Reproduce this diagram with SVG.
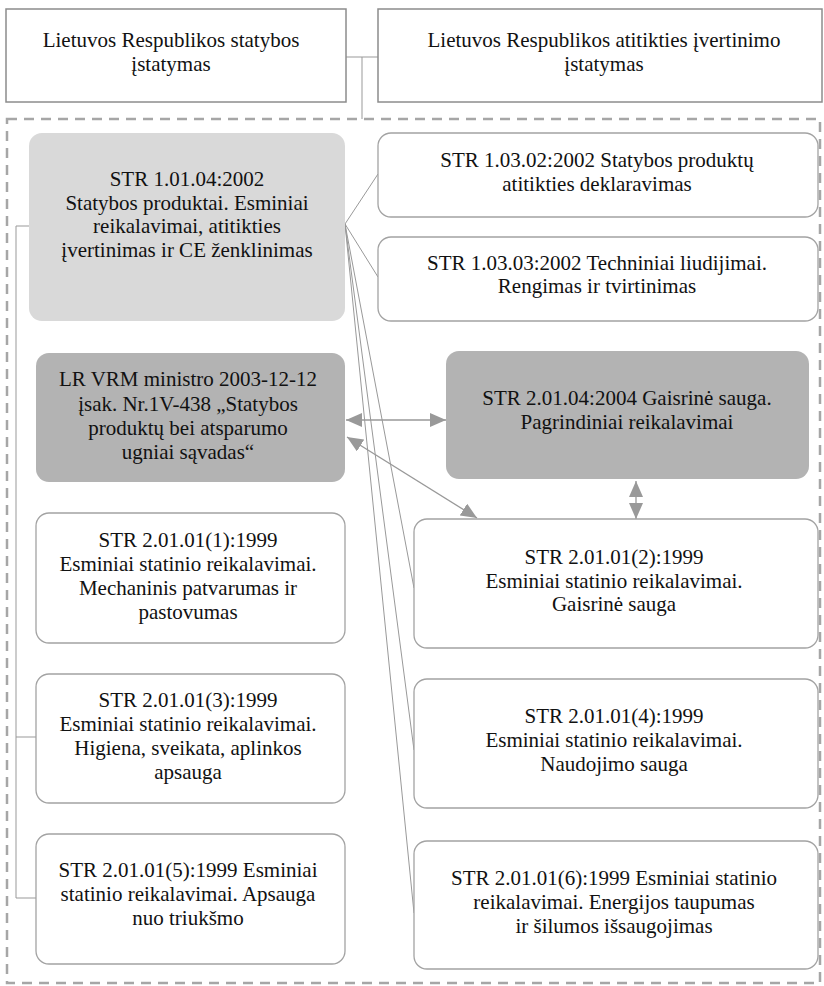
<svg xmlns="http://www.w3.org/2000/svg" width="824" height="986" viewBox="0 0 824 986">
<style>
text{font-family:"Liberation Serif","Times New Roman",serif;font-size:21px;fill:#111;text-anchor:middle}
.top{fill:#fff;stroke:#8c8c8c;stroke-width:1.5}
.box{fill:#fff;stroke:#a3a3a3;stroke-width:1.3}
.light{fill:#d9d9d9;stroke:none}
.dark{fill:#b3b3b3;stroke:none}
.ln{fill:none;stroke:#999;stroke-width:1}
.ar{fill:none;stroke:#999;stroke-width:1.3}
.frame{fill:none;stroke:#a6a6a6;stroke-width:2.5;stroke-dasharray:10 7}
</style>
<defs>
<marker id="ah" markerUnits="userSpaceOnUse" markerWidth="18" markerHeight="14" refX="16" refY="7" orient="auto-start-reverse">
<path d="M0,0 L16,7 L0,14 Z" fill="#999"/>
</marker>
</defs>
<rect class="frame" x="7" y="119" width="813" height="864"/>
<g id="connectors">
<polyline class="ln" points="346,57 378,57"/>
<polyline class="ln" points="362,57 362,119"/>
<polyline class="ln" points="29,226 16,226 16,898 36,898"/>
<line class="ln" x1="16" y1="737" x2="36" y2="737"/>
<line class="ln" x1="345" y1="224" x2="378" y2="174"/>
<line class="ln" x1="345" y1="224" x2="378" y2="277"/>
<line class="ln" x1="345" y1="224" x2="414" y2="588"/>
<line class="ln" x1="345" y1="224" x2="414" y2="750"/>
<line class="ln" x1="345" y1="224" x2="414" y2="913"/>
<line class="ar" x1="346" y1="420" x2="446" y2="420" marker-start="url(#ah)" marker-end="url(#ah)"/>
<line class="ar" x1="347" y1="437" x2="477" y2="518" marker-start="url(#ah)" marker-end="url(#ah)"/>
<line class="ar" x1="636" y1="481" x2="636" y2="519" marker-start="url(#ah)" marker-end="url(#ah)"/>
</g>
<g id="n-statybos-istatymas">
<rect class="top" x="6" y="9" width="340" height="93"/>
<text x="171" y="47">Lietuvos Respublikos statybos</text>
<text x="171" y="71">įstatymas</text>
</g>
<g id="n-atitikties-istatymas">
<rect class="top" x="378" y="9" width="444" height="93"/>
<text x="604" y="47">Lietuvos Respublikos atitikties įvertinimo</text>
<text x="604" y="71">įstatymas</text>
</g>
<g id="n-str-1-01-04">
<rect class="light" x="29" y="133" width="316" height="188" rx="13"/>
<text x="187" y="186">STR 1.01.04:2002</text>
<text x="187" y="210">Statybos produktai. Esminiai</text>
<text x="187" y="233">reikalavimai, atitikties</text>
<text x="187" y="257">įvertinimas ir CE ženklinimas</text>
</g>
<g id="n-str-1-03-02">
<rect class="box" x="378" y="133" width="440" height="84" rx="13"/>
<text x="597" y="167">STR 1.03.02:2002 Statybos produktų</text>
<text x="597" y="191">atitikties deklaravimas</text>
</g>
<g id="n-str-1-03-03">
<rect class="box" x="378" y="237" width="440" height="84" rx="13"/>
<text x="597" y="270">STR 1.03.03:2002 Techniniai liudijimai.</text>
<text x="597" y="293">Rengimas ir tvirtinimas</text>
</g>
<g id="n-lr-vrm">
<rect class="dark" x="36" y="353" width="309" height="129" rx="13"/>
<text x="188" y="386">LR VRM ministro 2003-12-12</text>
<text x="188" y="411">įsak. Nr.1V-438 „Statybos</text>
<text x="188" y="435">produktų bei atsparumo</text>
<text x="188" y="459">ugniai sąvadas“</text>
</g>
<g id="n-str-2-01-04">
<rect class="dark" x="446" y="351" width="363" height="128" rx="13"/>
<text x="627" y="405">STR 2.01.04:2004 Gaisrinė sauga.</text>
<text x="627" y="429">Pagrindiniai reikalavimai</text>
</g>
<g id="n-str-2-01-01-1">
<rect class="box" x="36" y="513" width="309" height="130" rx="13"/>
<text x="188" y="547">STR 2.01.01(1):1999</text>
<text x="188" y="571">Esminiai statinio reikalavimai.</text>
<text x="188" y="595">Mechaninis patvarumas ir</text>
<text x="188" y="619">pastovumas</text>
</g>
<g id="n-str-2-01-01-2">
<rect class="box" x="414" y="519" width="404" height="129" rx="13"/>
<text x="614" y="564">STR 2.01.01(2):1999</text>
<text x="614" y="588">Esminiai statinio reikalavimai.</text>
<text x="614" y="611">Gaisrinė sauga</text>
</g>
<g id="n-str-2-01-01-3">
<rect class="box" x="36" y="674" width="309" height="129" rx="13"/>
<text x="188" y="707">STR 2.01.01(3):1999</text>
<text x="188" y="731">Esminiai statinio reikalavimai.</text>
<text x="188" y="755">Higiena, sveikata, aplinkos</text>
<text x="188" y="779">apsauga</text>
</g>
<g id="n-str-2-01-01-4">
<rect class="box" x="414" y="679" width="404" height="129" rx="13"/>
<text x="614" y="723">STR 2.01.01(4):1999</text>
<text x="614" y="747">Esminiai statinio reikalavimai.</text>
<text x="614" y="771">Naudojimo sauga</text>
</g>
<g id="n-str-2-01-01-5">
<rect class="box" x="36" y="834" width="309" height="130" rx="13"/>
<text x="188" y="877">STR 2.01.01(5):1999 Esminiai</text>
<text x="188" y="901">statinio reikalavimai. Apsauga</text>
<text x="188" y="925">nuo triukšmo</text>
</g>
<g id="n-str-2-01-01-6">
<rect class="box" x="414" y="841" width="404" height="128" rx="13"/>
<text x="614" y="885">STR 2.01.01(6):1999 Esminiai statinio</text>
<text x="614" y="909">reikalavimai. Energijos taupumas</text>
<text x="614" y="933">ir šilumos išsaugojimas</text>
</g>
</svg>
